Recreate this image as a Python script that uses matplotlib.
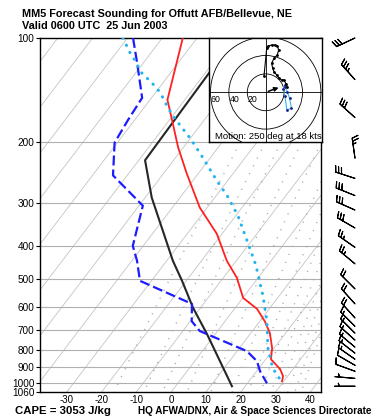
import numpy as np
import matplotlib
matplotlib.use("Agg")
import matplotlib.pyplot as plt

plt.rcParams["font.family"] = ["Liberation Sans", "DejaVu Sans"]

P0 = 1060.0      # bottom of diagram [hPa]
SKEW = 32.8      # deg C per unit ln(p) of isotherm skew

# --- sounding data (pressure hPa, temperature deg C) -------------------------
temp_p = [100, 151, 173, 207, 247, 310, 369, 442, 495, 566, 609, 661, 716, 791, 852, 910, 954, 987]
temp_t = [-74.1, -65.0, -59.2, -51.6, -43.3, -32.1, -21.5, -12.7, -6.1, 0.1, 6.5, 11.4, 15.5, 19.4,
          21.5, 26.3, 28.7, 29.5]

dewp_p = [100, 118, 149, 173, 201, 250, 306, 400, 442, 505, 589, 661, 706, 807, 863, 923, 1000]
dewp_t = [-88.4, -81.8, -72.7, -71.9, -70.8, -64.1, -48.9, -43.0, -38.5, -33.3, -13.3, -9.6, -5.1,
          12.8, 17.9, 21.0, 25.6]

black_p = [100, 126, 226, 290, 442, 505, 605, 720, 1020]
black_t = [-58.5, -58.9, -58.2, -48.1, -28.2, -21.2, -12.1, -2.4, 16.2]

parcel_p = [100, 110, 116, 126, 135, 144, 159, 171, 195, 222, 259, 286, 327, 392, 454, 559, 661, 791,
            905, 974]
parcel_t = [-91.3, -86.2, -83.0, -78.4, -73.1, -68.6, -63.2, -58.8, -50.1, -42.2, -33.1, -26.9, -19.4,
            -10.6, -3.5, 5.4, 12.0, 18.2, 24.0, 28.5]

# --- winds (barbs): direction from [deg], speed [kts] -------------------------
wind_p = [100, 132, 170, 223, 255, 286, 315, 355, 404, 451, 533, 589, 647, 684, 716, 750, 786, 818,
          852, 887, 923, 968, 1020]
wind_dir = [245, 318, 312, 352, 288, 292, 294, 300, 305, 310, 315, 318, 318, 315, 315, 312, 310, 308,
            305, 300, 290, 275, 270]
wind_spd = [30, 35, 30, 25, 30, 30, 30, 30, 25, 25, 20, 20, 20, 15, 15, 15, 15, 15, 15, 10, 10, 5, 5]

# --- hodograph (kts) ---------------------------------------------------------
hodo_low_u = [21.0, 23.5, 26.0, 28.0, 23.0, 21.0, 19.0, 21.0]
hodo_low_v = [6.0, 0.5, -6.5, -17.5, -19.0, -4.5, 4.0, 8.0]
hodo_up_u = [23.5, 22.1, 19.9, 17.4, 14.8, 12.0, 9.0, 7.6, 6.5, 9.0, 12.6, 14.1, 12.6, 10.1, 6.5, 2.8,
             1.1, -1.8]
hodo_up_v = [6.1, 9.0, 13.4, 13.4, 15.2, 18.8, 22.4, 26.1, 31.5, 37.0, 40.5, 46.0, 50.3, 51.4, 51.4,
             50.3, 47.8, 18.0]
motion_dir, motion_spd = 250, 18
cape = 3053

iso_t = np.arange(-130, 60, 10)
iso_p = [200, 300, 400, 500, 600, 700, 800, 900, 1000]
mix_w = [1, 2, 3, 5, 8, 12, 16, 20, 24, 28, 32, 36, 40]      # g/kg
p_ticks = [100, 200, 300, 400, 500, 600, 700, 800, 900, 1000, 1060]
t_ticks = [-30, -20, -10, 0, 10, 20, 30, 40]
rings = [20, 40, 60]


def skew_x(t, p):
    return np.asarray(t, float) + SKEW * np.log(P0 / np.asarray(p, float))


def mix_dewpoint(w, p):
    e = (w / 1000.0) * p / (0.622 + w / 1000.0)
    a = np.log(e / 6.112)
    return 243.5 * a / (17.67 - a)


W, H = 375, 420
fig = plt.figure(figsize=(W / 100, H / 100), dpi=100)
fig.patch.set_facecolor("white")

ax = fig.add_axes([40 / W, 1 - 392 / H, 281 / W, 354 / H])
ax.set_yscale("log")
ax.set_ylim(P0, 100)
ax.set_xlim(-37.7, 43.05)

pp = np.geomspace(100, P0, 60)
for t in iso_t:
    ax.plot(skew_x(t, pp), pp, color="#c4c4c4", lw=0.6, zorder=1)
for p in iso_p:
    ax.axhline(p, color="#b0b0b0", lw=0.8, zorder=1)
pm = np.geomspace(200, P0, 60)
for w in mix_w:
    ax.plot(skew_x(mix_dewpoint(w, pm), pm), pm, color="#a8a8a8", lw=1.0, ls=(0, (0.8, 5.5)),
            zorder=1)

ax.plot(skew_x(black_t, black_p), black_p, color="#262626", lw=1.5, zorder=4)
ax.plot(skew_x(temp_t, temp_p), temp_p, color="#ff2020", lw=1.3, zorder=5)
ax.plot(skew_x(dewp_t, dewp_p), dewp_p, color="#1c1cff", lw=1.6, ls=(0, (4.5, 1.8)), zorder=5)
ax.plot(skew_x(parcel_t, parcel_p), parcel_p, color="#22b4f0", lw=2.2, ls=(0, (0.1, 2.5)),
        dash_capstyle="round", zorder=5)

ax.set_yticks(p_ticks)
ax.set_yticklabels([str(p) for p in p_ticks])
ax.minorticks_off()
ax.set_xticks(t_ticks)
ax.set_xticklabels([str(t) for t in t_ticks])
ax.tick_params(axis="y", length=3, width=0.8, labelsize=7.2, pad=1)
ax.tick_params(axis="x", length=0, labelsize=7.0, pad=2)
for s in ax.spines.values():
    s.set_linewidth(1.0)

# --- hodograph inset ---------------------------------------------------------
hx = fig.add_axes([209 / W, 1 - 142 / H, 113 / W, 104 / H])
hx.set_xlim(-61.6, 61.2)
hx.set_ylim(-54.0, 59.0)
hx.set_xticks([])
hx.set_yticks([])
hx.set_facecolor("white")
hx.set_zorder(6)
for s in hx.spines.values():
    s.set_linewidth(1.0)
for r in rings:
    hx.add_patch(plt.Circle((0, 0), r, fill=False, color="black", lw=0.6))
    hx.text(-r + 0.5, -2.5, str(r), fontsize=6.3, ha="left", va="top")
hx.axhline(0, color="black", lw=0.6)
hx.axvline(0, color="black", lw=0.6)
hx.plot(hodo_low_u, hodo_low_v, color="#33b5f5", lw=0.8, marker=".", ms=2, mfc="#1c1c8c",
        mec="#1c1c8c")
hx.plot(hodo_up_u, hodo_up_v, color="black", lw=0.8, marker=".", ms=2)
mu = motion_spd * np.sin(np.radians(motion_dir - 180))
mv = motion_spd * np.cos(np.radians(motion_dir - 180))
hx.annotate("", xy=(mu, mv), xytext=(0, 0),
            arrowprops=dict(arrowstyle="-|>", color="black", lw=1.1, mutation_scale=6))
hx.text(0.995, 0.01, f"Motion: {motion_dir} deg at {motion_spd} kts", transform=hx.transAxes,
        fontsize=6.8, ha="right", va="bottom")

# --- wind barbs ----------------------------------------------------------------
bx = fig.add_axes([325 / W, 1 - 392 / H, 50 / W, 354 / H])
bx.set_yscale("log")
bx.set_ylim(P0, 100)
bx.set_xlim(0, 1)
bx.axis("off")
rad = np.radians(wind_dir)
bu = -np.asarray(wind_spd) * np.sin(rad)
bv = -np.asarray(wind_spd) * np.cos(rad)
bx.barbs(np.full(len(wind_p), 0.6), wind_p, bu, bv, length=5.4, lw=0.8,
         sizes=dict(spacing=0.15, height=0.3, width=0.2), clip_on=False)

# --- texts ---------------------------------------------------------------------
fig.text(22 / W, 1 - 14 / H, "MM5 Forecast Sounding for Offutt AFB/Bellevue, NE",
         fontsize=7.85, weight="bold", va="center")
fig.text(22 / W, 1 - 26 / H, "Valid 0600 UTC  25 Jun 2003", fontsize=7.85, weight="bold",
         va="center")
fig.text(15 / W, 1 - 411 / H, f"CAPE = {cape} J/kg", fontsize=8.2, weight="bold", va="center")
fig.text(138 / W, 1 - 411.5 / H, "HQ AFWA/DNX, Air & Space Sciences Directorate", fontsize=7.2,
         weight="bold", va="center")

fig.savefig("out.png", dpi=100)
